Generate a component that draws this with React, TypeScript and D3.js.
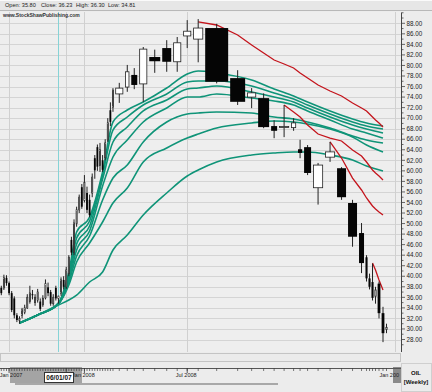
import React from "react";
import * as d3 from "d3";

// ---- weekly candles (OIL) ----
const opens = [37.8,37.8,39.7,38.7,36.8,35.8,32.6,31.6,32.6,33.2,34.0,35.2,36.6,35.0,35.5,35.2,34.6,35.9,37.9,37.0,34.8,37.8,35.80,
  36.8,39.3,38.0,40.5,46.9,44.5,50.0,52.6,56.9,54.4,55.8,54.5,55.8,62.4,64.5,61.0,62.0,62.5,65.9,71.5,72.1,
  74.6,75.9,78.2,76.5,81.6,83.3,80.7,85.6,85.0,87.1,77.6,74.0,73.8,68.5,68.3,68.2,64.1,64.5,56.8,62.6,60.5,53.9,48.2,43.6,39.6,38.9,36.2,38.6,33.0,29.9];
const highs = [38.2,40.3,40.2,39.0,37.2,36.2,33.0,32.4,34.0,34.6,36.6,38.2,37.4,36.6,37.6,35.8,36.4,39.4,38.8,37.4,36.6,38.2,36.30,
  39.8,40.0,41.8,44.0,47.5,50.8,53.2,55.5,57.5,59.2,57.0,55.5,59.5,63.0,65.0,65.3,63.0,66.0,70.0,73.0,75.7,
  76.7,80.1,79.5,83.5,83.0,84.8,85.4,88.6,88.8,87.9,79.1,75.7,74.7,69.6,72.5,70.0,65.9,64.9,61.5,65.5,60.7,54.5,50.1,44.0,40.5,42.4,38.0,39.0,34.2,31.0];
const lows = [36.4,37.4,38.2,36.4,33.2,32.0,31.3,31.0,32.0,32.8,33.8,34.8,35.6,34.4,35.0,33.4,34.2,35.6,36.2,34.4,34.4,35.4,34.81,
  36.3,37.5,37.6,40.0,44.0,44.0,49.4,52.0,52.8,54.0,52.0,51.2,55.0,58.5,60.0,59.8,59.8,62.0,65.5,68.5,71.2,
  72.9,75.0,75.5,73.1,78.6,78.8,78.8,83.3,80.6,76.6,72.5,71.9,68.1,66.2,66.4,67.6,62.4,59.2,53.6,61.7,54.5,45.6,40.6,39.0,37.5,35.4,34.8,32.0,27.5,29.2];
const closes = [36.8,39.7,38.7,36.8,33.6,32.6,31.7,32.0,33.6,34.0,36.0,36.8,36.4,36.0,37.0,33.8,35.8,38.6,36.8,34.8,36.0,35.8,36.23,
  39.3,38.0,41.2,43.6,44.5,50.1,52.6,55.0,53.2,57.8,52.6,51.6,58.8,60.1,60.8,64.0,60.2,65.3,69.1,69.3,75.3,
  75.7,78.8,76.3,83.1,80.8,80.7,84.3,86.5,87.1,76.9,73.1,74.8,68.3,67.6,68.4,69.1,63.4,59.6,61.1,63.6,55.0,47.5,42.5,39.6,38.0,35.9,37.4,33.0,29.2,30.3];
const volumes = [26,26,26,26,26,26,26,26,26,26,26,26,26,26,26,26,26,26,26,26,26,26,26,
  26,26,26,26,26,26,26,26,26,26,26,26,26,26,26,26,26,26,26,26,26,
  100,60,80,100,130,110,100,100,120,250,170,110,130,80,120,70,60,90,120,120,110,110,70,30,30,30,30,40,40,30];

// ---- long-term moving averages (teal), read at candle numbers ----
const tealCandles = [8,15,23,27,30,35,40,44,46,48,50,52,53,54,56,58,60,62,64,66,68,73];
const teal1 = [31.13,32.65,34.93,40.81,48.40,51.24,59.78,69.27,71.55,73.07,75.72,78.38,78.95,78.57,77.24,75.53,74.20,73.07,71.36,69.84,69.08,68.51];
const teal2 = [31.13,32.65,34.93,40.24,47.26,50.49,59.21,67.75,70.22,72.50,74.58,76.86,77.05,77.05,76.10,74.77,73.63,72.50,70.79,69.27,68.51,67.94];
const teal3 = [31.13,32.65,34.74,39.67,46.12,49.54,58.45,65.48,68.32,71.36,73.44,75.53,75.72,76.10,74.96,74.01,73.07,71.93,70.22,68.70,67.94,67.18];
const teal4 = [31.13,32.65,34.74,39.29,44.98,48.59,57.13,62.63,65.85,69.27,71.93,74.01,74.01,74.58,73.82,73.26,72.50,71.36,69.65,67.94,67.18,66.23];
const teal5 = [31.13,32.65,34.74,38.91,43.84,47.64,54.47,58.64,61.11,65.48,69.27,70.79,70.98,71.17,70.98,70.22,69.84,69.27,68.13,66.61,65.85,65.29];
const teal6 = [31.13,32.65,34.74,38.34,42.71,46.31,50.30,53.90,56.75,61.68,64.34,66.23,66.99,68.13,69.08,69.46,69.27,68.89,67.94,66.42,64.91,63.58];
const teal7 = [31.13,32.65,34.55,35.49,36.44,38.91,40.81,44.98,47.83,51.62,55.80,59.02,60.16,61.68,63.01,63.39,63.58,63.58,63.01,62.06,60.92,59.97];

// ---- descending red lines (start candle + values) ----
const redStarts = [53, 59, 64, 70];
const red1 = [88.25,87.68,85.78,83.88,82.36,81.04,80.28,79.52,78.57,77.62,76.29,75.15,74.20,72.88,71.93,71.36,70.79,70.22,69.65,69.08,68.32];
const red2 = [72.50,71.17,70.22,68.70,66.99,66.23,65.67,63.96,62.82,61.68,60.92,60.16,59.59,59.02,58.26];
const red3 = [65.48,62.44,58.64,56.37,54.85,54.09,53.33,52.76,52.19,51.62];
const red4 = [42.52,41.19,39.29,37.39];

// ---- axes / labels ----
const priceTicks = [88,86,84,82,80,78,76,74,72,70,68,66,64,62,60,58,56,54,52,50,48,46,44,42,40,38,36,34,32,30,28];
const minorTicks = [90,89,87,85,83,81,79,77,75,73,71,69,67,65,63,61,59,57,55,53,51,49,47,45,43,41,39,37,35,33,31,29,27];
const gridCandles = [4, 26, 33, 52];
const navLabels = ["Jan 2007", "", "Jan 2008", "Jul 2008"];
const cursorCandle = 23;
const cursorDate = "06/01/07";
const symbol = "OIL";
const period = "[Weekly]";

const TEAL = "#0f9478";
const RED = "#c4141c";
const FONT = "'Liberation Sans', Arial, sans-serif";

export default function App() {
  const cum: number[] = [];
  let total = 0;
  volumes.forEach((v) => { cum.push(total); total += v; });
  const x = d3.scaleLinear().domain([0, total]).range([0, 388]);
  const y = d3.scaleLinear().domain([28, 88]).range([339.5, 23.3]);
  const cx = (k: number) => x(cum[k - 1] + volumes[k - 1] / 2);

  const tealSeries = [teal1, teal2, teal3, teal4, teal5, teal6, teal7];
  const redSeries = [red1, red2, red3, red4];
  const tealLine = d3.line<[number, number]>().x((d) => cx(d[0])).y((d) => y(d[1])).curve(d3.curveMonotoneX);
  const redLine = d3.line<[number, number]>().x((d) => cx(d[0])).y((d) => y(d[1]));

  const plotTop = 12, plotBottom = 352, axisX = 401;
  const c = cursorCandle - 1;

  return (
    <svg width={432} height={392} style={{ position: "absolute", left: 0, top: 0 }} fontFamily={FONT}>
      <defs>
        <clipPath id="plotclip"><rect x={0} y={plotTop} width={axisX} height={plotBottom - plotTop} /></clipPath>
        <clipPath id="navclip"><rect x={0} y={362} width={401} height={30} /></clipPath>
      </defs>
      <rect x={0} y={0} width={432} height={392} fill="#ececec" />
      {/* info bar */}
      <rect x={0} y={0} width={432} height={10} fill="#e6e6e6" />
      <line x1={0} x2={432} y1={10.5} y2={10.5} stroke="#b8b8b8" />
      <line x1={0} x2={432} y1={0.5} y2={0.5} stroke="#fafafa" />
      <g fontSize={5.6} fill="#222">
        <text x={5} y={7.3}>{`Open: ${opens[c].toFixed(2)}`}</text>
        <text x={41} y={7.3}>{`Close: ${closes[c].toFixed(2)}`}</text>
        <text x={76} y={7.3}>{`High: ${highs[c].toFixed(2)}`}</text>
        <text x={108} y={7.3}>{`Low: ${lows[c].toFixed(2)}`}</text>
      </g>
      {/* plot background */}
      <rect x={0} y={plotTop} width={axisX} height={plotBottom - plotTop} fill="#eeeeee" />
      <g clipPath="url(#plotclip)">
        {priceTicks.map((p) => (
          <line key={p} x1={0} x2={axisX} y1={Math.round(y(p)) + 0.5} y2={Math.round(y(p)) + 0.5} stroke="#d4d4d4" />
        ))}
        {gridCandles.map((k) => (
          <line key={k} x1={Math.round(cx(k)) + 0.5} x2={Math.round(cx(k)) + 0.5} y1={plotTop} y2={plotBottom} stroke="#d0d0d0" />
        ))}
        <line x1={395.5} x2={395.5} y1={plotTop} y2={plotBottom} stroke="#d0d0d0" />
        <line x1={Math.round(cx(cursorCandle)) + 0.5} x2={Math.round(cx(cursorCandle)) + 0.5} y1={plotTop} y2={plotBottom} stroke="#86d3d6" />
        <text x={3} y={17} fontSize={5} fontWeight="bold" fill="#333">www.StockShawPublishing.com</text>
        {tealSeries.map((s, j) => (
          <path key={"t" + j} d={tealLine(s.map((v, i) => [tealCandles[i], v] as [number, number])) || ""}
            fill="none" stroke={TEAL} strokeWidth={1.6} />
        ))}
        {redSeries.map((s, j) => (
          <path key={"r" + j} d={redLine(s.map((v, i) => [redStarts[j] + i, v] as [number, number])) || ""}
            fill="none" stroke={RED} strokeWidth={1.3} />
        ))}
        {/* candles, drawn over the averages */}
        {opens.map((o, i) => {
          const cl = closes[i];
          const w = x(volumes[i]) - x(0);
          const gap = Math.min(2, w * 0.3);
          const bx = x(cum[i]) + gap / 2;
          const bw = w - gap;
          const mid = x(cum[i] + volumes[i] / 2);
          const up = cl >= o;
          const top = y(Math.max(o, cl));
          const h = Math.max(1, Math.abs(y(o) - y(cl)));
          return (
            <g key={i}>
              <line x1={mid} x2={mid} y1={y(highs[i])} y2={y(lows[i])} stroke="#222" strokeWidth={1} />
              <rect x={bx + (up ? 0.4 : 0)} y={top} width={Math.max(0.8, bw - (up ? 0.8 : 0))} height={h}
                fill={up ? "#ffffff" : "#050505"} stroke={up ? "#222" : "none"} strokeWidth={up ? 0.8 : 0} />
            </g>
          );
        })}
      </g>
      {/* price axis */}
      <line x1={axisX + 0.5} x2={axisX + 0.5} y1={plotTop + 1} y2={plotBottom} stroke="#444" />
      {minorTicks.map((p) => (
        <line key={"m" + p} x1={axisX} x2={axisX + 2.5} y1={y(p)} y2={y(p)} stroke="#444" strokeWidth={0.8} />
      ))}
      {priceTicks.map((p) => (
        <g key={"p" + p}>
          <line x1={axisX} x2={axisX + 4} y1={y(p)} y2={y(p)} stroke="#444" strokeWidth={0.8} />
          <text x={406.5} y={y(p) + 2.2} fontSize={6.3} fill="#222">{p.toFixed(2)}</text>
        </g>
      ))}
      {/* scrollbar */}
      <rect x={0.5} y={353.5} width={400} height={8} fill="#ebebeb" stroke="#c4c4c4" />
      {/* navigator */}
      <g clipPath="url(#navclip)">
        <rect x={10} y={367} width={72} height={16} fill="#a4a4a4" />
        <rect x={393} y={367} width={8} height={16} fill="#8a8a8a" />
        <line x1={0} x2={401} y1={368.5} y2={368.5} stroke="#555" />
        {opens.map((_, i) => (
          <line key={"n" + i} x1={cx(i + 1)} x2={cx(i + 1)} y1={368} y2={371} stroke="#444" strokeWidth={0.7} />
        ))}
        {gridCandles.map((k, i) => (
          <g key={"g" + k}>
            <line x1={cx(k)} x2={cx(k)} y1={368} y2={373} stroke="#333" strokeWidth={0.8} />
            {navLabels[i] && (
              <text x={Math.max(cx(k) - 1, 11)} y={377} fontSize={5.5} textAnchor="middle" fill="#222">{navLabels[i]}</text>
            )}
          </g>
        ))}
        <text x={399} y={377} fontSize={5.5} textAnchor="end" fill="#222">Jan 200</text>
        <rect x={44.5} y={372.5} width={29} height={10} fill="#ffffff" stroke="#333" />
        <text x={59} y={380.3} fontSize={6.5} fontWeight="bold" textAnchor="middle" fill="#111">{cursorDate}</text>
        <rect x={15} y={383} width={263} height={2} fill="#a8a8a8" />
      </g>
      {/* symbol panel */}
      <rect x={401.5} y={363.5} width={30} height={28} fill="#ececec" stroke="#cfcfcf" />
      <text x={416} y={375} fontSize={6} fontWeight="bold" textAnchor="middle" fill="#111">{symbol}</text>
      <text x={416} y={384} fontSize={6} fontWeight="bold" textAnchor="middle" fill="#111">{period}</text>
    </svg>
  );
}
